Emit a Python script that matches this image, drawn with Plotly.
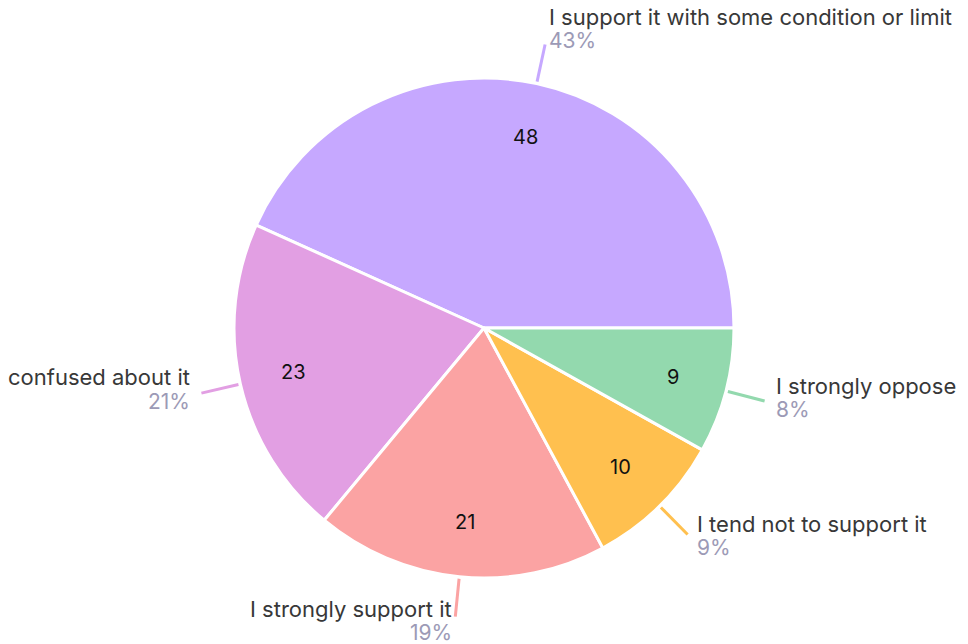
import numpy as np
import plotly.graph_objects as go

labels = ["I support it with some condition or limit", "confused about it",
          "I strongly support it", "I tend not to support it", "I strongly oppose"]
values = [48, 23, 21, 10, 9]
colors = ["#C6A8FF", "#E29FE3", "#FBA3A3", "#FFC04F", "#93D9AE"]

W, H = 968, 644
CX, CY, R = 484, 328, 250
FONT = "Inter"

total = sum(values)
pcts = [round(v / total * 100) for v in values]

# plotly: with counterclockwise direction the first slice ends at `rotation`
# (clockwise from 12 o'clock); we want it to start at 3 o'clock going CCW.
rotation = 90 - 360 * values[0] / total

fig = go.Figure(go.Pie(
    labels=labels, values=values, sort=False, direction="counterclockwise",
    rotation=rotation, textinfo="none", hoverinfo="none",
    marker=dict(colors=colors, line=dict(color="white", width=3)),
    domain=dict(x=[(CX - R) / W, (CX + R) / W], y=[(H - CY - R) / H, (H - CY + R) / H]),
    showlegend=False,
))

def px(x):
    return x / W

def py(y):
    return 1 - y / H

shapes, annots = [], []
start = 0.0
for lab, v, c, p in zip(labels, values, colors, pcts):
    span = v / total * 2 * np.pi
    mid = start + span / 2
    start += span
    ca, sa = np.cos(mid), np.sin(mid)
    # value inside
    ix, iy = CX + 0.78 * R * ca, CY - 0.78 * R * sa
    annots.append(dict(x=px(ix), y=py(iy), xref="paper", yref="paper", text=str(v),
                       showarrow=False, font=dict(family=FONT, size=20, color="#111"),
                       xanchor="center", yanchor="middle"))
    # leader line
    x0, y0 = CX + (R + 2) * ca, CY - (R + 2) * sa
    x1, y1 = CX + (R + 40) * ca, CY - (R + 40) * sa
    shapes.append(dict(type="line", xref="paper", yref="paper", x0=px(x0), y0=py(y0),
                       x1=px(x1), y1=py(y1), line=dict(color=c, width=3)))
    gap = 10 * abs(ca)
    if ca >= 0:
        tx, xa = x1 + gap, "left"
    else:
        tx, xa = x1 - gap, "right"
    dy = -6 - 10 * sa
    annots.append(dict(x=px(tx), y=py(y1 + dy - 12), xref="paper", yref="paper", text=lab,
                       showarrow=False, font=dict(family=FONT, size=22, color="#383838"),
                       xanchor=xa, yanchor="middle"))
    annots.append(dict(x=px(tx), y=py(y1 + dy + 12), xref="paper", yref="paper", text=f"{p}%",
                       showarrow=False, font=dict(family=FONT, size=21, color="#9C9AB6"),
                       xanchor=xa, yanchor="middle"))

fig.update_layout(width=W, height=H, margin=dict(l=0, r=0, t=0, b=0),
                  paper_bgcolor="white", plot_bgcolor="white",
                  shapes=shapes, annotations=annots)
fig.write_html("out.html", config={"displayModeBar": False},
               post_script="document.body.style.margin='0';")
